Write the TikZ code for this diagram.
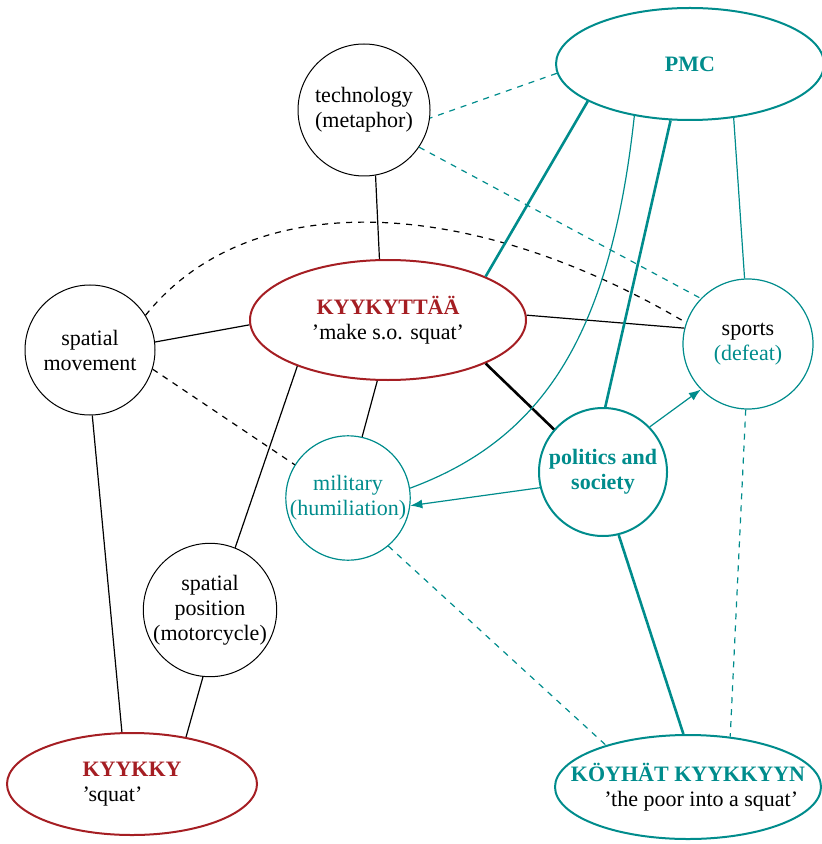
\documentclass[tikz,border=0pt]{standalone}
\usepackage{fontspec}
\setmainfont{Liberation Serif}
\usetikzlibrary{shapes.geometric,arrows.meta}
\definecolor{pteal}{RGB}{0,140,140}
\definecolor{pred}{RGB}{165,30,35}
\tikzset{
	txt/.style={align=center, inner sep=0pt, font=\fontsize{11}{12.5}\selectfont},
	blackc/.style={txt, circle, draw, line width=.5pt},
	tealc/.style={txt, circle, draw=pteal, line width=.6pt},
	redell/.style={txt, ellipse, draw=pred, line width=1pt},
	tealell/.style={txt, ellipse, draw=pteal, line width=1pt},
	thin/.style={line width=.6pt},
	thick/.style={line width=1.3pt},
	tthin/.style={pteal, line width=.6pt},
	tthick/.style={pteal, line width=1.3pt},
	tarrow/.style={pteal, line width=.6pt, -{Latex[length=6pt,width=4.5pt]}}
}
\begin{document}
\begin{tikzpicture}[x=.5pt, y=-.5pt]
		\useasboundingbox (0,0) rectangle (821,844);
		
		\node[blackc, minimum size=66pt] (tech) at (364,110) {technology\\(metaphor)};
		\node[tealell, minimum width=134pt, minimum height=56pt] (pmc) at (690,64) {\bfseries\color{pteal}PMC};
		\node[redell, minimum width=138pt, minimum height=60pt] (kyt) at (388,320) {{\bfseries\color{pred}KYYKYTTÄÄ}\\’make s.o. squat’};
		\node[blackc, minimum size=65pt] (smove) at (90,350) {spatial\\movement};
		\node[tealc, minimum size=65pt] (sports) at (748,344) {sports\\{\color{pteal}(defeat)}};
		\node[tealc, minimum size=64pt, line width=1pt] (polit) at (603,472) {\bfseries\color{pteal}politics and\\\bfseries\color{pteal}society};
		\node[tealc, minimum size=62pt] (milit) at (348,498) {\color{pteal}military\\\color{pteal}(humiliation)};
		\node[blackc, minimum size=66pt] (spos) at (210,610) {spatial\\position\\(motorcycle)};
		\node[redell, minimum width=125pt, minimum height=51pt, align=left] (kyy) at (132,784) {{\bfseries\color{pred}KYYKKY}\\’squat’};
		\node[tealell, inner xsep=-12pt, minimum width=133pt, minimum height=52pt] (koy) at (688,787) {{\bfseries\color{pteal}KÖYHÄT KYYKKYYN}\\\hspace*{1.2em}’the poor into a squat’};
		
		\draw[thin] (tech.-80) -- (kyt.98);
		\draw[thin] (smove.7) -- (kyt.182);
		\draw[thin] (kyt.2.5) -- (sports.166);
		\draw[thick] (kyt.-24) -- (polit.139);
		\draw[thin] (kyt.-100) -- (milit.77);
		\draw[thin] (kyt.-153) -- (spos.68);
		\draw[thin] (smove.-88) -- (kyy.101);
		\draw[thin] (spos.-96) -- (kyy.41);
		\draw[thin, dashed] (smove.32) .. controls (250,185) and (470,195) .. (sports.161);
		\draw[thin, dashed] (smove.-17) -- (milit.148);
		
		\draw[tthin, dashed] (pmc.184) -- (tech.-7);
		\draw[tthin, dashed] (tech.-34) -- (sports.136);
		\draw[tthick] (pmc.-160) -- (kyt.24.7);
		\draw[tthin] (pmc.-137) .. controls (610,340) and (540,440) .. (milit.9);
		\draw[tthick] (pmc.-109) -- (polit.88);
		\draw[tthin] (pmc.-51) -- (sports.93);
		\draw[tarrow] (polit.-166) -- (milit.-7);
		\draw[tarrow] (polit.44) -- (sports.-136);
		\draw[tthick] (polit.-76) -- (koy.95);
		\draw[tthin, dashed] (sports.-92) -- (koy.50);
		\draw[tthin, dashed] (milit.-50) -- (koy.153);
\end{tikzpicture}
\end{document}
